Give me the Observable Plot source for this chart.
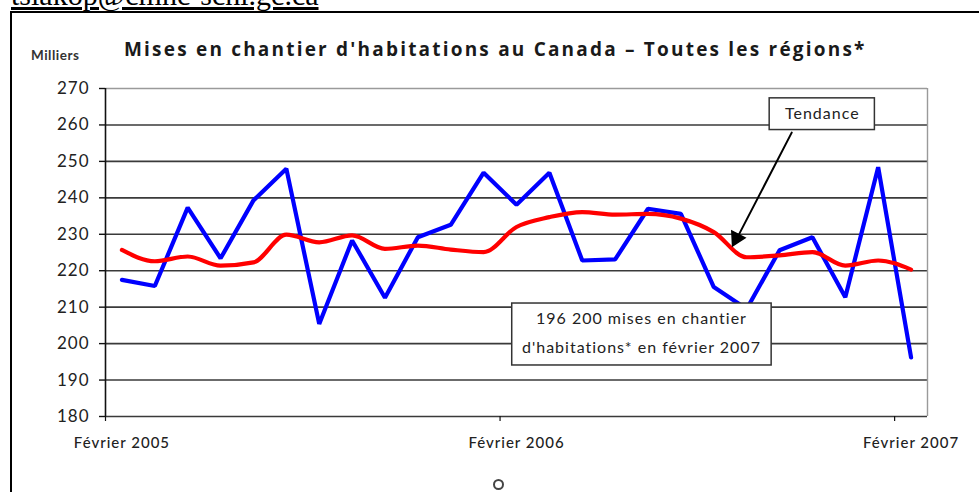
<!DOCTYPE html>
<html><head><meta charset="utf-8">
<script src="https://cdn.jsdelivr.net/npm/d3@7"></script>
<script src="https://cdn.jsdelivr.net/npm/@observablehq/plot@0.6"></script>
<style>
body{margin:0;background:#fff;width:979px;height:492px;overflow:hidden;position:relative;font-family:Lato,sans-serif}
#link{position:absolute;left:11px;top:-20px;font-family:"Liberation Serif",serif;font-size:30px;line-height:29px;color:#000;text-decoration:underline;white-space:nowrap}
#frame{position:absolute;left:10px;top:11px;width:990px;height:500px;border-left:2px solid #000;border-top:2px solid #000}
#title{position:absolute;left:124px;top:38px;font-family:"Open Sans",sans-serif;font-weight:bold;font-size:19px;line-height:22px;letter-spacing:2.2px;color:#1a1a1a;white-space:nowrap}
#unit{position:absolute;left:31px;top:48px;font-size:13.5px;line-height:15px;font-weight:bold;color:#333;letter-spacing:0.5px}
#chart{position:absolute;left:0;top:0}
#dot{position:absolute;left:493px;top:479px;width:7px;height:7px;border:2px solid #444;border-radius:50%}
</style></head><body>
<div id="link">tsiakop@cmhc-schl.gc.ca</div>
<div id="frame"></div>
<div id="chart"></div>
<div id="title">Mises en chantier d'habitations au Canada – Toutes les régions*</div>
<div id="unit">Milliers</div>
<div id="dot"></div>
<script>
// Months Feb 2005 .. Feb 2007
const months = ["2005-02","2005-03","2005-04","2005-05","2005-06","2005-07","2005-08","2005-09","2005-10","2005-11","2005-12","2006-01","2006-02","2006-03","2006-04","2006-05","2006-06","2006-07","2006-08","2006-09","2006-10","2006-11","2006-12","2007-01","2007-02"];
// Housing starts, thousands (SAAR)
const actual = [217.5,215.8,237.3,223.4,239.3,248.0,205.4,228.3,212.6,229.2,232.6,246.9,238.1,246.9,222.8,223.1,237.0,235.6,215.5,209.5,225.6,229.2,212.7,248.4,196.2];
// Trend
const trend = [225.7,222.6,223.9,221.4,222.3,229.9,227.8,229.7,226.0,226.9,225.8,225.1,232.0,234.7,236.1,235.4,235.6,234.3,230.6,223.7,224.2,225.1,221.4,222.8,220.3];
const yTicks = [180,190,200,210,220,230,240,250,260,270];
const xLabelMonths = ["2005-02","2006-02","2007-02"];
const xLabels = ["Février 2005","Février 2006","Février 2007"];
const tendanceLabel = "Tendance";
const noteLines = ["196 200 mises en chantier","d'habitations* en février 2007"];

const rows = months.map((m, i) => ({i, m, actual: actual[i], trend: trend[i]}));
const idx = m => months.indexOf(m);
const labelIdx = xLabelMonths.map(idx);
const tickEdges = labelIdx.map(i => i - 0.5);

const chart = Plot.plot({
  width: 979, height: 492,
  marginLeft: 105, marginRight: 52, marginTop: 88, marginBottom: 76,
  style: {fontFamily: "Lato, sans-serif", background: "transparent"},
  x: {domain: [-0.5, months.length - 0.5], axis: null},
  y: {domain: [180, 270], axis: null},
  marks: [
    Plot.ruleY(yTicks.filter(d => d < 270), {stroke: "#3a3a3a", strokeWidth: 1.6}),
    Plot.ruleY([270], {stroke: "#9a9a9a", strokeWidth: 1.4}),
    Plot.ruleX([months.length - 0.5], {stroke: "#9a9a9a", strokeWidth: 1.4}),
    Plot.ruleX([-0.5], {stroke: "#111", strokeWidth: 1.6}),
    Plot.axisY({ticks: yTicks, tickSize: 6, tickPadding: 10, fontSize: 17, label: null, stroke: "#111", strokeWidth: 1.4, fill: "#222"}),
    Plot.axisX({ticks: tickEdges, tickSize: 5, tickFormat: () => "", label: null, stroke: "#111", strokeWidth: 1.2}),
    Plot.axisX({ticks: labelIdx, tickSize: 0, tickPadding: 21, fontSize: 15, fontWeight: 500, label: null, fill: "#222",
      tickFormat: d => xLabels[labelIdx.indexOf(d)]}),
    Plot.line(rows, {x: "i", y: "actual", stroke: "#0000ff", strokeWidth: 4.2, strokeLinejoin: "miter"}),
    Plot.line(rows, {x: "i", y: "trend", stroke: "#ff0000", strokeWidth: 4.2, curve: "monotone-x"}),
    // Tendance callout
    Plot.rect([{x1: 19.7, x2: 22.9, y1: 258.6, y2: 267.3}], {x1: "x1", x2: "x2", y1: "y1", y2: "y2", fill: "#fff", stroke: "#333", strokeWidth: 1.5}),
    Plot.text([tendanceLabel], {x: 21.3, y: 263.0, text: d => d, fontSize: 16, fill: "#222"}),
    Plot.arrow([{x1: 20.37, y1: 257.9, x2: 18.70, y2: 228.8}], {x1: "x1", y1: "y1", x2: "x2", y2: "y2", stroke: "#000", strokeWidth: 2, headLength: 0}),
    Plot.dot([{x: 18.69, y: 228.9}], {x: "x", y: "y", symbol: "triangle", r: 5.5, fill: "#000", stroke: "#000", rotate: 207}),
    // note box
    Plot.rect([{x1: 11.87, x2: 19.76, y1: 194.0, y2: 211.0}], {x1: "x1", x2: "x2", y1: "y1", y2: "y2", fill: "#fff", stroke: "#333", strokeWidth: 1.5}),
    Plot.text(noteLines, {x: 15.8, y: (d, i) => [206.9, 198.7][i], text: d => d, fontSize: 16, fill: "#222"})
  ]
});
d3.select(chart).selectAll("text").style("letter-spacing", "1px");
document.getElementById("chart").appendChild(chart);
</script>
</body></html>
